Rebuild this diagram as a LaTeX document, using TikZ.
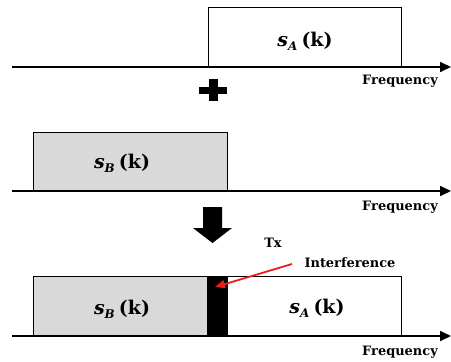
\documentclass[tikz,border=0pt]{standalone}
\usepackage{fontspec}
\setmainfont{DejaVu Serif}
\usetikzlibrary{arrows.meta}
\definecolor{boxgray}{HTML}{D9D9D9}
\definecolor{intred}{HTML}{EE1C1C}
\newcommand{\sig}[1]{\textbf{\textit{s}}\raisebox{-0.4ex}{\fontsize{12}{12}\selectfont\textbf{\textit{#1}}}\hspace{0.22em}\textbf{(k)}}
\tikzset{
  axis/.style={line width=1.6bp,-{Triangle[length=11bp,width=10bp]}},
  band/.style={draw=black,line width=0.9bp,inner sep=0pt,anchor=north west},
  freq/.style={font=\fontsize{13}{15}\selectfont\bfseries,inner sep=0pt},
  siglabel/.style={font=\fontsize{19}{21}\selectfont,inner sep=0pt},
  bigsym/.style={fill=black,draw=none},
}
\begin{document}
\begin{tikzpicture}[x=1bp,y=-1bp]
\useasboundingbox (0,0) rectangle (451,361);
% ---- top: S_A
\node[band,minimum width=193bp,minimum height=60bp] (sa1) at (208,7) {};
\coordinate (ax1s) at (12,67);
\coordinate (ax1e) at (451,67);
\draw[axis] (ax1s) -- (ax1e);
\node[siglabel] (la1) at (305,41) {\sig{A}};
\node[freq] (f1) at (400,81) {Frequency};
% plus sign
\fill[bigsym] (199,86.5) rectangle (227,93.5);
\fill[bigsym] (208.5,79) rectangle (217.5,101);
% ---- middle: S_B
\node[band,fill=boxgray,minimum width=194bp,minimum height=59bp] (sb1) at (33,132) {};
\coordinate (ax2s) at (12,191);
\coordinate (ax2e) at (451,191);
\draw[axis] (ax2s) -- (ax2e);
\node[siglabel] (lb1) at (122,163) {\sig{B}};
\node[freq] (f2) at (400,207) {Frequency};
% thick down arrow
\fill[bigsym] (203,207) -- (222,207) -- (222,228) -- (232,228) -- (212.5,243) -- (193,228) -- (203,228) -- cycle;
% ---- bottom
\node[band,fill=boxgray,minimum width=174bp,minimum height=60bp] (sb2) at (33,276) {};
\node[band,fill=black,minimum width=20bp,minimum height=60bp] (intf) at (207,276) {};
\node[band,minimum width=174bp,minimum height=60bp] (sa2) at (227,276) {};
\coordinate (ax3s) at (12,336);
\coordinate (ax3e) at (451,336);
\draw[axis] (ax3s) -- (ax3e);
\node[siglabel] (lb2) at (122,309) {\sig{B}};
\node[siglabel] (la2) at (317,308) {\sig{A}};
\node[freq] (f3) at (400,352) {Frequency};
\node[freq] (tx) at (273,243) {Tx};
\node[freq] (it) at (350,263) {Interference};
\coordinate (arrs) at (292,264);
\coordinate (arre) at (215,287);
\draw[intred,line width=1.8bp,-{Triangle[length=10bp,width=8bp]}] (arrs) -- (arre);
\end{tikzpicture}
\end{document}
